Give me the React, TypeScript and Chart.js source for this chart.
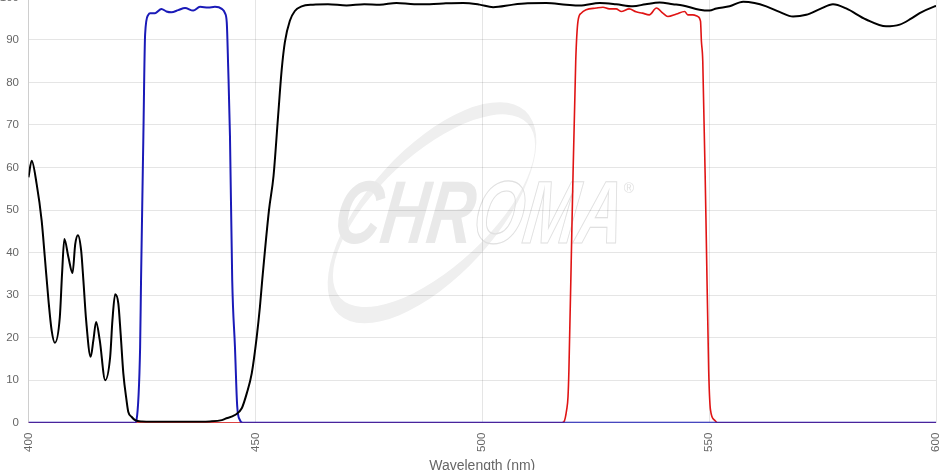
import React, { useEffect, useRef } from "react";
import { Chart, registerables } from "chart.js";

Chart.register(...registerables);

// ---- Data (wavelength in nm, transmission in %) ----
const blackWl = [
  400.0, 400.7, 401.8, 402.9, 403.6, 404.4, 405.1, 405.8, 406.9, 407.4, 407.9, 408.8, 409.7, 410.3,
  410.9, 411.6, 412.1, 412.7, 413.7, 414.3, 414.9, 415.7, 416.9, 418.0, 418.5, 419.1, 419.8, 420.3,
  420.9, 421.6, 422.0, 422.7, 423.5, 425.0, 430.0, 435.0, 440.0, 442.6, 443.3, 445.5, 447.0, 448.1,
  449.2, 450.3, 451.0, 451.5, 453.0, 454.0, 455.0, 455.8, 456.5, 457.6, 458.7, 460.2, 462.7, 466.0,
  470.1, 474.0, 477.4, 481.1, 485.0, 488.4, 492.0, 495.8, 499.4, 502.4, 506.8, 510.0, 514.1, 518.5,
  521.5, 525.9, 529.5, 533.2, 536.0, 539.1, 542.0, 544.2, 547.9, 550.1, 551.6, 554.5, 557.5, 560.0,
  562.6, 565.5, 568.5, 571.4, 574.5, 577.3, 580.2, 584.6, 589.0, 592.0, 594.5, 596.4, 599.7, 600.0,
];
const blackT = [
  57.7, 61.6, 56.1, 47.5, 38.9, 28.8, 21.7, 18.8, 24.8, 35.1, 43.2, 38.9, 35.2, 42.0,
  44.1, 40.5, 33.4, 24.1, 15.5, 19.4, 23.7, 19.4, 10.0, 15.5, 24.1, 30.2, 28.0, 21.0,
  11.6, 5.3, 2.5, 1.4, 0.6, 0.3, 0.2, 0.2, 0.3, 0.6, 0.9, 1.8, 3.4, 6.9,
  11.6, 20.2, 27.2, 33.4, 50.0, 58.0, 72.0, 83.0, 89.5, 94.5, 96.8, 97.9, 98.3, 98.4,
  98.1, 98.4, 98.3, 98.7, 98.4, 98.4, 98.6, 98.7, 98.3, 97.7, 98.3, 98.6, 98.7, 98.3,
  98.1, 98.7, 98.4, 97.9, 98.4, 98.8, 98.4, 98.1, 97.1, 96.9, 97.4, 97.9, 99.0, 98.7,
  97.9, 96.6, 95.5, 95.9, 97.3, 98.4, 97.4, 94.8, 93.2, 93.6, 95.0, 96.3, 97.9, 98.0,
];

const blueWl = [
  400.0, 423.5, 423.8, 424.6, 424.8, 425.3, 425.7, 426.4, 426.8, 427.9, 429.3, 430.4, 431.5, 433.0,
  434.5, 436.3, 437.8, 439.6, 441.1, 442.6, 443.3, 443.7, 444.0, 444.4, 444.9, 445.5, 446.0, 446.6,
  447.2, 600.0,
];
const blueT = [
  0, 0, 0.6, 17.8, 33.4, 66.3, 91.3, 95.9, 96.3, 96.3, 97.3, 96.7, 96.5, 97.0,
  97.5, 96.9, 97.8, 97.6, 97.8, 97.3, 96.3, 94.0, 83.9, 67.5, 33.4, 17.8, 3.8, 0.6,
  0, 0,
];

const redWl = [
  400.0, 517.5, 518.0, 518.6, 518.9, 519.1, 519.8, 520.6, 521.1, 521.8, 522.9, 525.1, 526.6, 528.0,
  529.5, 530.6, 532.4, 533.9, 535.3, 536.8, 538.4, 539.8, 540.9, 542.8, 544.6, 545.3, 546.4, 547.5,
  548.1, 548.3, 548.6, 549.3, 549.9, 550.3, 551.2, 551.8, 600.0,
];
const redT = [
  0, 0, 0.2, 3.0, 6.1, 12.4, 48.0, 85.0, 94.4, 96.3, 97.1, 97.5, 97.7, 97.3,
  97.3, 96.7, 97.3, 96.6, 96.3, 95.9, 97.5, 96.3, 95.5, 96.1, 96.7, 95.9, 95.9, 95.5,
  94.4, 89.7, 85.0, 48.0, 12.4, 3.0, 0.6, 0, 0,
];

const xMin = 400;
const xMax = 600;
const xStep = 50;
const yMin = 0;
const yMax = 100;
const yStep = 10;
const xTitle = "Wavelength (nm)";

const toPoints = (xs: number[], ys: number[]) => xs.map((x, i) => ({ x, y: ys[i] }));

// Watermark (decorative logo) drawn behind the grid
const watermarkPlugin = {
  id: "chromaWatermark",
  beforeDraw(chart: any) {
    const { ctx, chartArea: ca } = chart;
    if (!ca) return;
    const sx = ca.width / 907.5;
    const sy = ca.height / 426.7;
    const X = (v: number) => ca.left + (v - 28.5) * sx;
    const Y = (v: number) => ca.top + (v + 4) * sy;
    ctx.save();
    // swoosh ring
    ctx.beginPath();
    ctx.ellipse(X(432), Y(212), 138 * sx, 64 * sy, -0.83, 0, Math.PI * 2);
    ctx.ellipse(X(434), Y(210), 128 * sx, 56 * sy, -0.75, 0, Math.PI * 2);
    ctx.fillStyle = "#efefef";
    ctx.fill("evenodd");
    // letters
    ctx.save();
    ctx.translate(X(332), Y(242));
    ctx.transform(0.72, 0, -0.14, 1, 0, 0);
    ctx.font = "italic bold 89px Arial, 'Liberation Sans', sans-serif";
    ctx.textBaseline = "alphabetic";
    ctx.fillStyle = "#e9e9e9";
    ctx.fillText("CHR", 0, 0);
    const w = ctx.measureText("CHR").width;
    ctx.strokeStyle = "#e0e0e0";
    ctx.lineWidth = 1.2;
    ctx.strokeText("OMA", w, 0);
    ctx.restore();
    ctx.font = "14px Arial, 'Liberation Sans', sans-serif";
    ctx.fillStyle = "#e2e2e2";
    ctx.textAlign = "center";
    ctx.textBaseline = "middle";
    ctx.fillText("\u00AE", X(629), Y(188));
    ctx.restore();
  },
};

const tickFont = { size: 11.5 };

export default function App() {
  const ref = useRef<HTMLCanvasElement>(null);

  useEffect(() => {
    if (!ref.current) return;
    Chart.defaults.font.family = "Arial, 'Liberation Sans', sans-serif";
    const gridColor = "rgba(0,0,0,0.1)";
    const chart = new Chart(ref.current, {
      type: "line",
      data: {
        datasets: [
          {
            label: "Dichroic",
            data: toPoints(blackWl, blackT),
            borderColor: "#000000",
            borderWidth: 2,
            pointRadius: 0,
            cubicInterpolationMode: "monotone",
            fill: false,
          },
          {
            label: "Excitation",
            data: toPoints(blueWl, blueT),
            borderColor: "#1a1ab8",
            borderWidth: 2,
            pointRadius: 0,
            cubicInterpolationMode: "monotone",
            fill: false,
          },
          {
            label: "Emission",
            data: toPoints(redWl, redT),
            borderColor: "#e01414",
            borderWidth: 1.6,
            pointRadius: 0,
            cubicInterpolationMode: "monotone",
            fill: false,
          },
        ],
      },
      options: {
        animation: false,
        responsive: true,
        maintainAspectRatio: false,
        layout: { padding: { top: 8, right: 15, left: 0, bottom: 0 } },
        plugins: {
          legend: { display: false },
          tooltip: { enabled: false },
        },
        scales: {
          x: {
            type: "linear",
            min: xMin,
            max: xMax,
            ticks: {
              stepSize: xStep,
              minRotation: 90,
              maxRotation: 90,
              padding: 10,
              color: "#666",
              font: tickFont,
            },
            grid: { color: gridColor, drawTicks: false },
            border: { color: gridColor },
            title: {
              display: true,
              text: xTitle,
              color: "#666",
              font: { size: 14 },
              padding: { top: 4, bottom: 4 },
            },
            afterFit: (s: any) => {
              s.height = 56.3;
              s.paddingRight = 0;
              s.paddingLeft = 0;
            },
          },
          y: {
            min: yMin,
            max: yMax,
            ticks: {
              stepSize: yStep,
              padding: 9.5,
              color: "#666",
              font: tickFont,
            },
            grid: { color: gridColor, drawTicks: false },
            border: { color: gridColor },
            afterFit: (s: any) => {
              s.width = 28.5;
            },
          },
        },
      },
      plugins: [watermarkPlugin],
    } as any);
    return () => chart.destroy();
  }, []);

  return (
    <div
      style={{
        position: "fixed",
        left: 0,
        top: 0,
        width: 951,
        height: 470,
        overflow: "hidden",
        background: "#fff",
      }}
    >
      <div style={{ position: "absolute", left: 0, top: -19, width: 951, height: 498 }}>
        <canvas ref={ref} />
      </div>
    </div>
  );
}
